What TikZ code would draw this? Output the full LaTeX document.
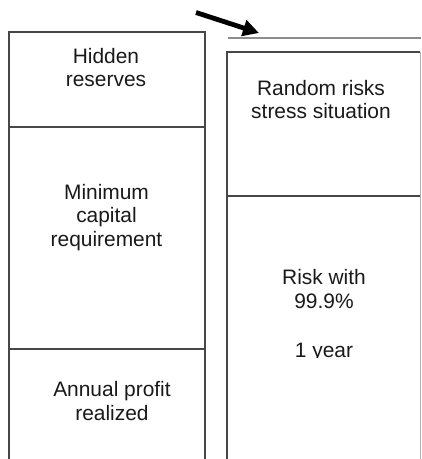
\documentclass[tikz,border=0pt]{standalone}
\usepackage{fontspec}
\setmainfont{Liberation Sans}
\usetikzlibrary{arrows.meta}
\begin{document}
\begin{tikzpicture}[x=1bp,y=-1bp,
  frame/.style={draw=black!72,line width=2.2bp},
  lbl/.style={font=\fontsize{21}{23.5}\selectfont,align=center,anchor=base,inner sep=0pt,text=black!90},
  pointer/.style={line width=4.8bp,-{Triangle[length=16bp,width=16bp]}}]
  \useasboundingbox (0,0) rectangle (421,459);

  % left column: capital side
  \draw[frame] (9,470) -- (9,32) -- (205,32) -- (205,470);
  \draw[frame] (9,127) -- (205,127);
  \draw[frame] (9,349) -- (205,349);

  % right column: risk side
  \draw[black!45,line width=2bp] (228,38.5) -- (421,38.5);
  \draw[frame] (227,470) -- (227,52) -- (420,52);
  \draw[black!30,line width=1bp] (420,52) -- (420,470);
  \draw[frame] (227,196) -- (420,196);

  % labels (base anchor sits on the last line)
  \node[lbl] (hid) at (106,87) {Hidden\\reserves};
  \node[lbl] (mcr) at (106.5,246) {Minimum\\capital\\requirement};
  \node[lbl] (apr) at (112,420) {Annual profit\\realized};
  \node[lbl] (rnd) at (321,119) {Random risks\\stress situation};
  \node[lbl] (rsk) at (324,308) {Risk with\\99.9\%};
  \begin{scope}
    \clip (230,330) rectangle (418,357);
    \node[lbl] (yr) at (324,357) {1 year};
  \end{scope}

  % pointer toward the stress-situation level
  \coordinate (ps) at (196,12.5);
  \coordinate (pe) at (259,33);
  \draw[pointer] (ps) -- (pe);
\end{tikzpicture}
\end{document}
